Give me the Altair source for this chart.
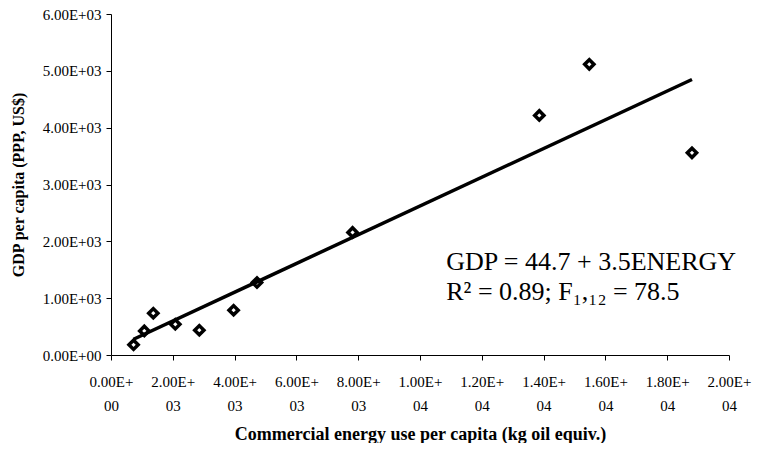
import altair as alt
import pandas as pd

energy = [730, 1078, 1369, 2081, 2858, 3968, 4725, 7818, 13861, 15479, 18802]
gdp = [180, 423, 735, 541, 436, 788, 1275, 2157, 4215, 5115, 3557]

x_ticks = [0, 2000, 4000, 6000, 8000, 10000, 12000, 14000, 16000, 18000, 20000]
y_ticks = [0, 1000, 2000, 3000, 4000, 5000, 6000]

ann_text = ["GDP = 44.7 + 3.5ENERGY", "R\u00b2 = 0.89; F\u2081,\u2081\u2082 = 78.5"]
ann_x = [10850, 10850]
ann_y = [1640, 1110]

df = pd.DataFrame({"energy": energy, "gdp": gdp})
ann = pd.DataFrame({"t": ann_text, "x": ann_x, "y": ann_y})

FONT = "Liberation Serif"

xlab = ("[format(datum.value < 1 ? 0 : datum.value / pow(10, floor(log(datum.value)/LN10 + 1e-9)), '.2f') + 'E+', "
        "(datum.value < 1 ? '00' : '0' + floor(log(datum.value)/LN10 + 1e-9))]")
ylab = ("format(datum.value < 1 ? 0 : datum.value / pow(10, floor(log(datum.value)/LN10 + 1e-9)), '.2f') + 'E+' + "
        "(datum.value < 1 ? '00' : '0' + floor(log(datum.value)/LN10 + 1e-9))")

xs = alt.Scale(domain=[0, 20000], nice=False, zero=True)
ys = alt.Scale(domain=[0, 6000], nice=False, zero=True)

xaxis = alt.Axis(values=x_ticks, labelExpr=xlab, title="Commercial energy use per capita (kg oil equiv.)",
                 grid=False, domainColor="black", tickColor="black", tickSize=5,
                 labelFont=FONT, labelFontSize=15, labelColor="black", labelPadding=14,
                 labelLineHeight=24, labelOverlap=False, labelFlush=False,
                 titleFont=FONT, titleFontSize=18, titleFontWeight="bold", titleColor="black", titlePadding=12)
yaxis = alt.Axis(values=y_ticks, labelExpr=ylab, title="GDP per capita (PPP, US$)",
                 grid=False, domainColor="black", tickColor="black", tickSize=5,
                 labelFont=FONT, labelFontSize=15, labelColor="black", labelPadding=5,
                 titleFont=FONT, titleFontSize=16, titleFontWeight="bold", titleColor="black", titlePadding=16)

points = alt.Chart(df).mark_point(shape="diamond", filled=False, color="black", strokeWidth=3.5, size=85, opacity=1).encode(
    x=alt.X("energy:Q", scale=xs, axis=xaxis),
    y=alt.Y("gdp:Q", scale=ys, axis=yaxis),
)

line = alt.Chart(df).transform_regression("energy", "gdp").mark_line(color="black", strokeWidth=3.5).encode(
    x=alt.X("energy:Q", scale=xs),
    y=alt.Y("gdp:Q", scale=ys),
)

text = alt.Chart(ann).mark_text(font=FONT, fontSize=26, align="left", baseline="middle", color="black").encode(
    x=alt.X("x:Q", scale=xs),
    y=alt.Y("y:Q", scale=ys),
    text="t:N",
)

chart = (line + points + text).properties(
    width=618, height=341,
    autosize=alt.AutoSizeParams(type="none"),
    padding={"left": 103, "top": 6, "right": 23, "bottom": 88},
    background="white",
).configure_view(stroke=None)

chart.save("out.html", embed_options={"renderer": "svg", "actions": False})
